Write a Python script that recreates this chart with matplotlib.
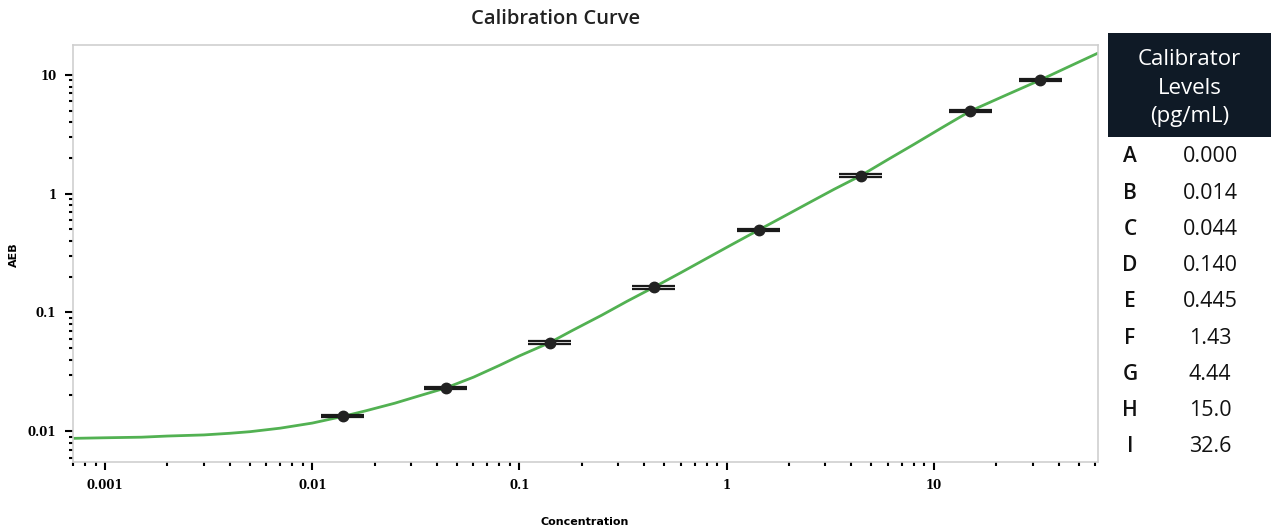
import numpy as np
import matplotlib
matplotlib.use('Agg')
import matplotlib.pyplot as plt
from matplotlib.ticker import LogLocator, FixedLocator, NullFormatter

# calibrator table
levels = ['A', 'B', 'C', 'D', 'E', 'F', 'G', 'H', 'I']
level_vals = ['0.000', '0.014', '0.044', '0.140', '0.445', '1.43', '4.44', '15.0', '32.6']

# measured points (A = 0 is not shown on log axis)
conc = [0.014, 0.044, 0.140, 0.445, 1.43, 4.44, 15.0, 32.6]
aeb = [0.0134, 0.0231, 0.0557, 0.163, 0.496, 1.42, 4.97, 9.07]

# fitted curve
curve_x = [0.0007, 0.001, 0.0015, 0.002, 0.003, 0.004, 0.005, 0.007, 0.01, 0.014,
           0.018, 0.025, 0.033, 0.044, 0.06, 0.08, 0.1, 0.14, 0.18, 0.25, 0.33,
           0.445, 0.6, 0.8, 1.05, 1.43, 2.0, 2.5, 3.3, 4.44, 6.0, 8.0, 11.0,
           15.0, 22.0, 32.6, 45.0, 62.0]
curve_y = [0.0087, 0.0088, 0.0089, 0.0091, 0.0093, 0.0096, 0.0099, 0.0106, 0.0117,
           0.0133, 0.0148, 0.0172, 0.0199, 0.0231, 0.0285, 0.0358, 0.0431, 0.0557,
           0.0705, 0.095, 0.124, 0.163, 0.216, 0.285, 0.37, 0.496, 0.68, 0.84,
           1.09, 1.42, 1.94, 2.60, 3.62, 4.97, 6.7, 9.07, 11.8, 15.3]

fig = plt.figure(figsize=(12.71, 5.31), dpi=100)
ax = fig.add_axes([73/1271, 1-462/531, (1098-73)/1271, (462-45)/531])
ax.set_xscale('log')
ax.set_yscale('log')
ax.set_xlim(0.0007, 62)
ax.set_ylim(0.0055, 17.9)

ax.plot(curve_x, curve_y, color='#52b152', lw=2.0, zorder=2)

cx = np.array(conc)
cy = np.array(aeb)
xerr = [cx - cx/1.27, cx*1.27 - cx]
for f in (1.025, 1/1.025):
    ax.errorbar(cx, cy*f, xerr=xerr, fmt='none', ecolor='#1a1a1a', elinewidth=1.6,
                capsize=0, zorder=3)
ax.errorbar(cx, cy, yerr=[cy - cy/1.05, cy*1.05 - cy], fmt='o', color='#222222',
            ms=7.5, elinewidth=1.5, capsize=0, zorder=4)

for s in ax.spines.values():
    s.set_color('#cfcfcf')
    s.set_linewidth(1.2)

ax.xaxis.set_major_locator(FixedLocator([0.001, 0.01, 0.1, 1, 10]))
ax.xaxis.set_minor_locator(LogLocator(base=10, subs=np.arange(2, 10)))
ax.yaxis.set_major_locator(FixedLocator([0.01, 0.1, 1, 10]))
ax.yaxis.set_minor_locator(LogLocator(base=10, subs=np.arange(2, 10)))
ax.xaxis.set_minor_formatter(NullFormatter())
ax.yaxis.set_minor_formatter(NullFormatter())
ax.set_xticklabels(['0.001', '0.01', '0.1', '1', '10'])
ax.set_yticklabels(['0.01', '0.1', '1', '10'])
ax.tick_params(which='major', length=6, width=1.5, color='black',
               labelsize=8.5, pad=6)
ax.tick_params(which='minor', length=3, width=1.5, color='black')
for lab in ax.get_xticklabels() + ax.get_yticklabels():
    lab.set_fontweight('bold')
    lab.set_family('DejaVu Serif')

fig.text(585/1271, 1-522/531, 'Concentration', ha='center', va='center',
         fontsize=8, fontweight='bold')
fig.text(14/1271, 1-255/531, 'AEB', ha='center', va='center', rotation=90,
         fontsize=8, fontweight='bold')
fig.text(556/1271, 1-19/531, 'Calibration Curve', ha='center', va='center',
         fontsize=14.5, family='Open Sans', fontweight='semibold', color='#222222')

# table header
hdr = fig.add_axes([1108/1271, 1-137/531, (1271-1108)/1271, (137-33)/531])
hdr.set_facecolor('#0f1a26')
hdr.set_xticks([])
hdr.set_yticks([])
for s in hdr.spines.values():
    s.set_visible(False)
hdr.text(0.5, 0.47, 'Calibrator\nLevels\n(pg/mL)', ha='center', va='center',
         color='white', fontsize=16, family='Open Sans', linespacing=1.45,
         transform=hdr.transAxes)

for i, (lv, val) in enumerate(zip(levels, level_vals)):
    ypx = 157 + i*36.2
    fig.text(1130/1271, 1-ypx/531, lv, ha='center', va='center', fontsize=15,
             family='Open Sans', fontweight='semibold', color='#111111')
    fig.text(1210/1271, 1-ypx/531, val, ha='center', va='center', fontsize=15.5,
             family='Open Sans', color='#111111')

fig.savefig('out.png', dpi=100)
